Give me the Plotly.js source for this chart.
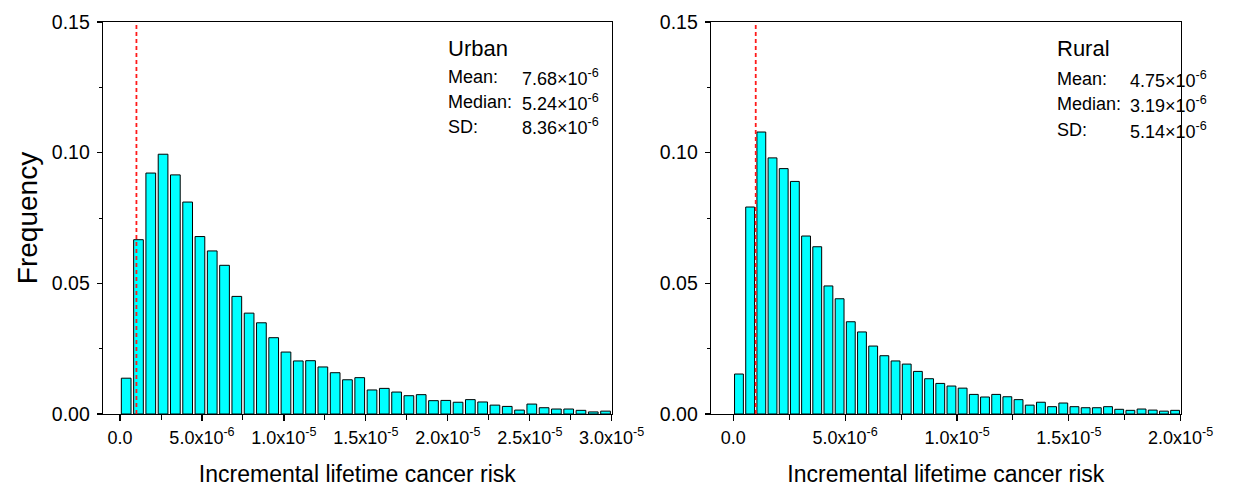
<!DOCTYPE html>
<html>
<head>
<meta charset="utf-8">
<script src="https://cdn.plot.ly/plotly-3.0.1.min.js"></script>
<style>html,body{margin:0;padding:0;background:#fff;}#chart{width:1256px;height:487px;}</style>
</head>
<body>
<div id="chart"></div>
<script>
// ---- Data ----
// Urban: 40 bins, width 0.75e-6, starting at 0
const urbanBinWidth = 0.75e-6;
const urbanFreq = [0.0137, 0.0667, 0.0922, 0.0994, 0.0915, 0.0811, 0.0679, 0.0624, 0.0569, 0.0450,
                   0.0386, 0.0349, 0.0292, 0.0237, 0.0203, 0.0204, 0.0180, 0.0158, 0.0131, 0.0139,
                   0.0092, 0.0098, 0.0084, 0.0070, 0.0074, 0.0051, 0.0052, 0.0045, 0.0055, 0.0046,
                   0.0034, 0.0029, 0.0015, 0.0038, 0.0024, 0.0019, 0.0019, 0.0014, 0.0008, 0.0011];
// Rural: 40 bins, width 0.5e-6, starting at 0
const ruralBinWidth = 0.5e-6;
const ruralFreq = [0.0153, 0.0792, 0.1079, 0.0980, 0.0939, 0.0890, 0.0681, 0.0640, 0.0490, 0.0441,
                   0.0353, 0.0314, 0.0260, 0.0223, 0.0203, 0.0191, 0.0163, 0.0135, 0.0117, 0.0107,
                   0.0099, 0.0075, 0.0065, 0.0075, 0.0066, 0.0055, 0.0034, 0.0045, 0.0028, 0.0042,
                   0.0028, 0.0024, 0.0024, 0.0028, 0.0018, 0.0014, 0.0019, 0.0015, 0.0011, 0.0014];
const thresholdRisk = [1e-6, 1e-6];
const thresholdY = [0, 0.15];

const urbanTickVals = [0, 5e-6, 1e-5, 1.5e-5, 2e-5, 2.5e-5, 3e-5];
const urbanTickText = ["0.0", "5.0x10<sup>-6</sup>", "1.0x10<sup>-5</sup>", "1.5x10<sup>-5</sup>",
                       "2.0x10<sup>-5</sup>", "2.5x10<sup>-5</sup>", "3.0x10<sup>-5</sup>"];
const urbanMinorVals = [2.5e-6, 7.5e-6, 1.25e-5, 1.75e-5, 2.25e-5, 2.75e-5];
const ruralTickVals = [0, 5e-6, 1e-5, 1.5e-5, 2e-5];
const ruralTickText = ["0.0", "5.0x10<sup>-6</sup>", "1.0x10<sup>-5</sup>", "1.5x10<sup>-5</sup>",
                       "2.0x10<sup>-5</sup>"];
const ruralMinorVals = [2.5e-6, 7.5e-6, 1.25e-5, 1.75e-5];
const yTickVals = [0, 0.05, 0.10, 0.15];
const yTickText = ["0.00", "0.05", "0.10", "0.15"];

const statLabels = ["Mean:", "Median:", "SD:"];
const urbanStats = ["7.68×10<sup>-6</sup>", "5.24×10<sup>-6</sup>", "8.36×10<sup>-6</sup>"];
const ruralStats = ["4.75×10<sup>-6</sup>", "3.19×10<sup>-6</sup>", "5.14×10<sup>-6</sup>"];

// ---- Traces ----
const barStyle = {color: "#00FFFF", line: {color: "#000000", width: 1}};
const dashLine = {color: "#ff1a1a", width: 1.8, dash: "4px,3px"};
const traces = [
  {type: "bar", x0: urbanBinWidth / 2, dx: urbanBinWidth, y: urbanFreq, xaxis: "x", yaxis: "y",
   marker: barStyle, hoverinfo: "x+y"},
  {type: "scatter", mode: "lines", x: thresholdRisk, y: thresholdY, xaxis: "x", yaxis: "y", line: dashLine},
  {type: "bar", x0: ruralBinWidth / 2, dx: ruralBinWidth, y: ruralFreq, xaxis: "x2", yaxis: "y2",
   marker: barStyle, hoverinfo: "x+y"},
  {type: "scatter", mode: "lines", x: thresholdRisk, y: thresholdY, xaxis: "x2", yaxis: "y2", line: dashLine}
];

const W = 1256, H = 487;
const FAM = "Liberation Sans, Arial, sans-serif";

function xAxis(domain, range, tv, tt, mv) {
  return {
    domain: domain, range: range, tickmode: "array", tickvals: tv, ticktext: tt,
    ticks: "outside", ticklen: 6, tickwidth: 1.2, tickcolor: "#000",
    minor: {tickvals: mv, ticks: "outside", ticklen: 5, tickwidth: 1, tickcolor: "#000"},
    showline: true, linecolor: "#000", linewidth: 1.3, mirror: true,
    showgrid: false, zeroline: false,
    tickfont: {family: FAM, size: 18, color: "#000"}, ticklabelstandoff: 1,
    title: {text: "Incremental lifetime cancer risk", font: {family: FAM, size: 23, color: "#000"}}
  };
}
function yAxis(anchor, withTitle) {
  const a = {
    domain: [73 / H, 465 / H], range: [0, 0.15], anchor: anchor,
    tickmode: "array", tickvals: yTickVals, ticktext: yTickText,
    ticks: "outside", ticklen: 5, tickwidth: 1.2, tickcolor: "#000",
    minor: {dtick: 0.025, ticks: "outside", ticklen: 3, tickwidth: 1, tickcolor: "#000"},
    showline: true, linecolor: "#000", linewidth: 1.3, mirror: true,
    showgrid: false, zeroline: false,
    tickfont: {family: FAM, size: 19.5, color: "#000"}, ticklabelstandoff: 3
  };
  if (withTitle) a.title = {text: "Frequency", font: {family: FAM, size: 28, color: "#000"}};
  return a;
}

const annotations = [];
function addStats(xLabel, xValue, yTitle, title, yRows, values) {
  annotations.push({xref: "paper", yref: "paper", x: xLabel / W, y: 1 - yTitle / H,
    xanchor: "left", yanchor: "middle", showarrow: false, text: title,
    font: {family: FAM, size: 22, color: "#000"}});
  for (let i = 0; i < statLabels.length; i++) {
    annotations.push({xref: "paper", yref: "paper", x: xLabel / W, y: 1 - yRows[i] / H,
      xanchor: "left", yanchor: "middle", showarrow: false, text: statLabels[i],
      font: {family: FAM, size: 18, color: "#000"}});
    annotations.push({xref: "paper", yref: "paper", x: xValue / W, y: 1 - yRows[i] / H,
      xanchor: "left", yanchor: "middle", showarrow: false, text: values[i],
      font: {family: FAM, size: 18, color: "#000"}});
  }
}
addStats(446, 520, 48, "Urban", [77, 102, 127], urbanStats);
addStats(1055, 1128, 49, "Rural", [79, 104, 130], ruralStats);

const layout = {
  width: W, height: H,
  margin: {l: 0, r: 0, t: 0, b: 0},
  paper_bgcolor: "#fff", plot_bgcolor: "#fff",
  showlegend: false, bargap: 0.21,
  font: {family: FAM, size: 18, color: "#000"},
  xaxis: Object.assign(xAxis([103 / W, 611.7 / W], [-1.04e-6, 3.0e-5], urbanTickVals, urbanTickText, urbanMinorVals), {anchor: "y"}),
  yaxis: yAxis("x", true),
  xaxis2: Object.assign(xAxis([711 / W, 1180.7 / W], [-1.0e-6, 2.0e-5], ruralTickVals, ruralTickText, ruralMinorVals), {anchor: "y2"}),
  yaxis2: yAxis("x2", false),
  annotations: annotations
};

Plotly.newPlot("chart", traces, layout, {displayModeBar: false, staticPlot: true});
</script>
</body>
</html>
